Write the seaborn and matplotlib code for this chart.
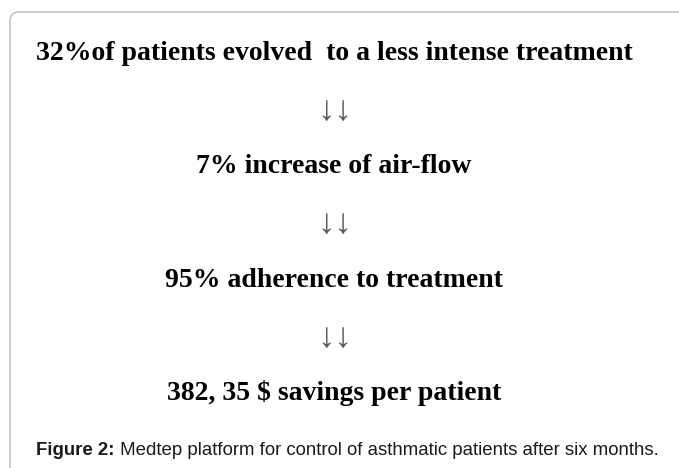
import matplotlib
matplotlib.use("Agg")
import matplotlib.pyplot as plt
import seaborn as sns
from matplotlib.patches import FancyBboxPatch

# ==========================================================
# DATA
# ==========================================================
steps = [
    "32%of patients evolved  to a less intense treatment",
    "7% increase of air-flow",
    "95% adherence to treatment",
    "382, 35 $ savings per patient",
]
arrow_glyph = "\u2193\u2193"
caption_label = "Figure 2:"
caption_text = " Medtep platform for control of asthmatic patients after six months."

# ==========================================================
# FIGURE
# ==========================================================
sns.set_theme(style="white")
plt.rcParams['font.family'] = ['Liberation Serif', 'DejaVu Serif']

W, H = 679, 468
fig = plt.figure(figsize=(W / 100, H / 100), dpi=100)
ax = fig.add_axes([0, 0, 1, 1])
ax.set_xlim(0, W)
ax.set_ylim(H, 0)
ax.axis('off')

# rounded frame, open to the right and bottom
frame = FancyBboxPatch((10, 12), W + 40, H + 40,
                       boxstyle="round,pad=0,rounding_size=9",
                       fill=False, edgecolor='#c4c4c4', linewidth=1.2)
ax.add_patch(frame)

# flow of results, each step followed by a pair of down arrows
xc = 334
first_base, gap = 60, 113.3
for i, s in enumerate(steps):
    yb = first_base + i * gap
    ax.text(xc, yb, s, ha='center', va='baseline', fontsize=20,
            fontweight='bold', color='#000000')
    if i < len(steps) - 1:
        ax.text(xc + 1, yb + gap / 2 - 5, arrow_glyph, ha='center',
                va='center', fontsize=25, color='#5a5a5a')

# caption: bold label followed by plain text
cap_y = 455
renderer = fig.canvas.get_renderer()
t1 = ax.text(0, cap_y, caption_label, ha='left', va='baseline', fontsize=13.4,
             fontweight='bold', color='#1a1a1a', family=['Liberation Sans', 'DejaVu Sans'])
t2 = ax.text(0, cap_y, caption_text, ha='left', va='baseline', fontsize=13.4,
             color='#1a1a1a', family=['Liberation Sans', 'DejaVu Sans'])
w1 = t1.get_window_extent(renderer).width
w2 = t2.get_window_extent(renderer).width
x0 = 347.5 - (w1 + w2) / 2
t1.set_x(x0)
t2.set_x(x0 + w1)

fig.savefig('out.png', dpi=100, facecolor='white')
